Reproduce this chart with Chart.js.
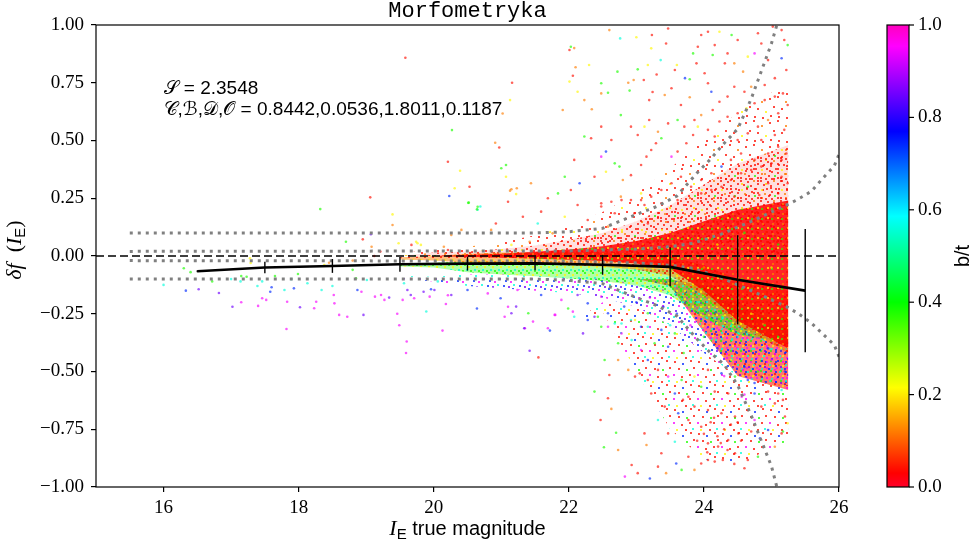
<!DOCTYPE html>
<html>
<head>
<meta charset="utf-8">
<script src="https://cdn.jsdelivr.net/npm/chart.js@4.4.1/dist/chart.umd.min.js"></script>
<style>
html, body { margin: 0; padding: 0; background: #fff; }
#wrap { width: 975px; height: 542px; }
</style>
</head>
<body>
<div id="wrap"><canvas id="chart" width="975" height="542"></canvas></div>
<script>
// Ejes y marcas
const xTicks = [16, 18, 20, 22, 24, 26];
const yTicks = [-1, -0.75, -0.5, -0.25, 0, 0.25, 0.5, 0.75, 1];
const cbTicks = [0, 0.2, 0.4, 0.6, 0.8, 1.0];

// Mediana por bin y su dispersion
const binX = [16.5, 17.5, 18.5, 19.5, 20.5, 21.5, 22.5, 23.5, 24.5, 25.5];
const binY = [-0.066, -0.05, -0.043, -0.036, -0.033, -0.032, -0.038, -0.047, -0.103, -0.15];
const binErr = [0.004, 0.025, 0.03, 0.032, 0.03, 0.03, 0.043, 0.085, 0.193, 0.267];

// Curvas punteadas (limites)
const outerX = [15.5, 21.5, 22.0, 22.5, 23.0, 23.3, 23.6, 23.9, 24.1, 24.3, 24.5, 24.7, 24.85, 25.0, 25.08];
const outerUp = [0.10, 0.10, 0.105, 0.12, 0.18, 0.214, 0.26, 0.36, 0.42, 0.488, 0.55, 0.68, 0.80, 0.92, 1.0];
const outerLo = [-0.10, -0.10, -0.105, -0.12, -0.18, -0.214, -0.26, -0.36, -0.42, -0.47, -0.56, -0.69, -0.80, -0.91, -1.0];
const innerX = [15.5, 22.0, 23.0, 23.5, 23.84, 24.26, 24.7, 25.22, 25.39, 25.59, 25.74, 25.93, 26.0];
const innerUp = [0.02, 0.022, 0.03, 0.04, 0.055, 0.095, 0.15, 0.22, 0.245, 0.28, 0.33, 0.39, 0.44];
const innerLo = [-0.02, -0.022, -0.03, -0.04, -0.053, -0.095, -0.15, -0.219, -0.248, -0.29, -0.332, -0.385, -0.436];

// Zonas densas de la nube (contornos)
const bandX = [19.5, 20.0, 20.5, 21.0, 21.5, 22.0, 22.5, 23.0, 23.5, 24.0, 24.5, 25.25];
const haloOuterUp = [0.01, 0.03, 0.04, 0.06, 0.09, 0.13, 0.19, 0.27, 0.38, 0.5, 0.62, 0.75];
const haloInnerUp = [0.0, 0.015, 0.02, 0.03, 0.045, 0.07, 0.1, 0.15, 0.22, 0.31, 0.4, 0.48];
const haloLo = [0, 0, 0, 0, 0, 0, 0, 0, 0, 0, 0, 0];
const coreUp = [0, 0, 0.004, 0.01, 0.018, 0.028, 0.042, 0.065, 0.1, 0.15, 0.2, 0.24];
const coreLo = [0, 0, -0.004, -0.008, -0.012, -0.016, -0.022, -0.032, -0.055, -0.15, -0.28, -0.4];
const orangeUp = [-0.005, 0.0, 0.01, 0.015, 0.015, 0.015, 0.015, 0.01, 0.0, -0.04, -0.1, -0.15];
const orangeLo = [-0.015, -0.02, -0.028, -0.033, -0.036, -0.04, -0.046, -0.058, -0.085, -0.17, -0.3, -0.42];
const greenUp = [-0.035, -0.03, -0.022, -0.023, -0.026, -0.03, -0.035, -0.045, -0.06, -0.1, -0.2, -0.28];
const greenLo = [-0.045, -0.05, -0.07, -0.08, -0.088, -0.097, -0.108, -0.128, -0.17, -0.27, -0.34, -0.38];
const blueUp = [-0.085, -0.09, -0.08, -0.08, -0.085, -0.092, -0.1, -0.12, -0.15, -0.2, -0.3, -0.36];
const blueLo = [-0.1, -0.11, -0.13, -0.14, -0.15, -0.16, -0.18, -0.22, -0.3, -0.42, -0.52, -0.56];
const lobeUp = [-0.05, -0.05, -0.05, -0.05, -0.05, -0.06, -0.08, -0.1, -0.1, -0.13, -0.22, -0.3];
const lobeLo = [-0.05, -0.05, -0.05, -0.05, -0.05, -0.06, -0.08, -0.1, -0.13, -0.33, -0.52, -0.58];
const lowUp = [-0.3, -0.3, -0.3, -0.3, -0.3, -0.3, -0.2, -0.22, -0.3, -0.42, -0.52, -0.56];
const lowLo = [-0.3, -0.3, -0.3, -0.3, -0.3, -0.3, -0.24, -0.5, -0.75, -0.88, -0.9, -0.8];

// Galaxias sueltas, agrupadas por b/t
const redPts = [[19.12,0.0],[19.21,0.019],[18.95,0.072],[19.58,0.858],[19.06,0.254],[19.67,0.048],[20.21,0.026],[20.21,0.408],[20.53,0.30],[20.97,0.47],[21.16,0.75],[21.1,0.235],[21.32,0.17],[20.92,0.141],[21.59,0.192],[21.69,0.25],[22.03,0.286],[22.13,0.221],[22.28,0.156],[22.48,0.228],[22.68,0.185],[22.78,0.242],[22.97,0.185],[23.07,0.242],[23.17,0.141],[21.55,-0.439],[22.58,-0.616],[22.47,-0.71],[22.6,-0.515],
  [22.01,0.892],[22.06,0.78],[23.11,0.762],[23.23,0.957],[23.44,0.92],[23.47,0.985],[23.3,0.786],[23.19,0.675],[23.24,0.71],[23.52,0.726],[23.57,0.805],[23.66,0.654],[23.91,0.906],[23.96,0.957],[23.89,0.834],[24.01,0.791],[24.06,0.748],[24.16,0.913],[24.06,0.971],[24.31,0.834],[24.35,0.877],[24.5,0.935],[24.85,0.92],[24.8,0.964],[25.02,0.993],[25.15,0.978],[25.19,0.935],[25.22,0.805],[25.05,0.77],[24.9,0.74],[24.95,0.848],[24.6,0.711],[24.45,0.733],[24.35,0.69],[24.23,0.668],[24.13,0.632],[23.86,0.589],[23.71,0.56],[23.47,0.574],[23.19,0.589],[23.02,0.524],[22.92,0.56],[22.63,0.502],[22.48,0.56],[22.33,0.51],[22.08,0.416],[22.38,0.343],[22.92,0.35],[23.07,0.394],[23.15,0.43],[23.22,0.459],[23.29,0.488],[23.61,0.452],[23.74,0.488],[23.84,0.524],[24.06,0.546],[24.16,0.517],[24.23,0.582],[24.35,0.603],[24.5,0.618],[24.75,0.661],[24.9,0.675],[25.05,0.69],[25.17,0.704],[25.24,0.654],[25.1,0.618],[24.8,0.56],[24.65,0.531],[24.5,0.502],[24.85,0.502],[25.05,0.524],[25.19,0.546],[25.1,0.473],[24.95,0.444],[24.75,0.416],[24.55,0.444],[24.4,0.416],[24.11,0.358],[23.96,0.329],[23.81,0.3],[23.66,0.343],[23.52,0.315],[23.37,0.286],[23.22,0.257],[22.92,0.242],[22.63,0.235],[23.96,0.271],[24.11,0.286],[24.26,0.3],[24.4,0.329],[24.55,0.358],[24.7,0.372],[24.85,0.387],[25.0,0.401],[25.15,0.416],[25.22,0.444],[24.95,0.315],[25.15,0.343],[25.24,0.315],[24.82,0.264],[25.1,0.271],[24.45,0.257],[23.61,0.242],[23.37,0.228],[23.12,0.221],[22.48,0.214],
  [22.98,-0.522],[23.05,-0.508],[23.17,-0.537],[23.22,-0.595],[23.12,-0.768],[23.02,-0.94],[22.93,-0.905],[23.32,-0.912],[23.37,-0.854],[23.47,-0.768],[23.77,-0.869],[23.96,-0.898],[24.06,-0.883],[24.16,-0.89],[24.28,-0.883],[24.46,-0.854],[24.6,-0.919],[24.65,-0.883],[25.15,-0.768],[25.2,-0.695],[24.06,-0.811],[24.21,-0.825],[24.36,-0.797],[24.51,-0.768],[23.96,-0.739],[23.77,-0.71],[23.42,-0.652],[23.69,-0.623],[23.86,-0.652],[24.06,-0.667],[24.26,-0.681],[24.46,-0.695],[24.65,-0.667],[24.85,-0.652],[25.05,-0.638],[25.17,-0.623],[23.77,-0.609],[24.16,-0.587],[24.36,-0.595],[24.95,-0.587],[25.1,-0.595],[23.32,-0.493],[24.06,-0.493],[24.85,-0.522],
  [24.1,-0.72],[24.3,-0.75],[24.2,-0.78],[24.4,-0.73],[24.55,-0.8],[24.0,-0.77],[24.35,-0.84],[24.15,-0.7],[24.5,-0.72],[24.25,-0.81],[24.7,-0.76],[24.05,-0.85],[23.9,-0.8],[24.45,-0.9]];
const orangePts = [[18.45,-0.029],[18.8,-0.02],[19.08,0.04],[19.39,0.134],[20.15,0.04],[20.91,0.49],[21.02,0.617],[21.23,0.293],[21.13,0.283],[22.08,0.90],[22.1,0.817],[22.23,0.675],[22.34,0.635],[21.91,0.632],[22.48,0.704],[22.6,0.978],[22.88,0.75],[22.96,0.762],[23.42,0.697],[23.79,0.687],[24.45,0.834],[24.58,0.798],[24.7,0.733],[23.96,0.61],[23.32,0.538],[22.8,0.329],[22.77,0.257],[24.95,0.589],[21.15,0.289],[21.44,0.315],[20.85,0.113],[21.76,0.098],[21.42,0.062],[20.41,0.113],[20.26,0.091],[22.58,0.127],[22.63,-0.662],[22.73,-0.84],[22.73,-0.45],[22.88,-0.493],[23.15,-0.818],[23.44,-0.94],[23.86,-0.926],[25.05,-0.826],[24.8,0.15],[24.0,-0.05]];
const yellowPts = [[17.29,-0.03],[17.28,-0.01],[19.39,0.18],[19.48,0.055],[19.76,0.055],[20.39,0.369],[21.13,0.675],[21.07,0.343],[22.01,0.755],[22.3,0.827],[22.13,0.711],[23.0,0.947],[23.17,0.827],[23.22,0.899],[23.6,0.827],[24.23,0.971],[24.65,0.863],[23.12,0.56],[22.55,0.365],[23.91,0.56],[24.63,0.639],[23.07,0.271],[20.31,0.293],[21.22,0.268],[21.94,0.17],[19.74,0.062],[19.81,0.048],[21.15,0.048],[22.98,-0.277],[23.86,-0.522],[25.24,-0.724],[18.38,-0.039],[24.4,-0.45],[24.7,-0.25],[24.2,0.05],[25.0,-0.05],[24.4,-0.1]];
const greenPts = [[16.3,-0.053],[16.4,-0.07],[16.72,-0.11],[17.15,-0.087],[17.23,-0.09],[17.65,-0.087],[17.99,-0.078],[18.7,0.062],[18.8,-0.06],[18.85,-0.097],[18.32,0.203],[20.27,0.545],[20.65,0.213],[20.51,0.23],[21.07,0.394],[21.0,0.38],[22.03,0.906],[22.48,0.748],[22.58,0.707],[22.72,0.798],[22.9,0.716],[23.02,0.808],[23.79,0.765],[23.84,0.877],[24.13,0.87],[24.41,0.957],[25.24,0.913],[23.61,0.589],[22.77,0.61],[22.23,0.517],[22.68,0.401],[22.75,0.387],[21.94,0.343],[23.37,0.51],[24.65,0.3],[20.52,0.231],[20.64,0.202],[21.84,0.271],[21.4,-0.248],[21.99,-0.227],[22.48,-0.306],[23.17,-0.248],[22.52,-0.828],[22.7,-0.765],[22.38,-0.587],[22.53,-0.45],[23.67,-0.926],[24.8,-0.869],[25.17,-0.76],[23.96,-0.566],[23.67,-0.537],[24.46,-0.522],[22.73,-0.378],[23.27,-0.378],[23.57,-0.335],[22.43,-0.263],[24.0,-0.35],[24.8,-0.5],[24.9,-0.3],[25.1,-0.35],[23.7,-0.42],[24.6,0.1],[23.9,0.0],[25.1,0.05]];
const cyanPts = [[16.0,-0.125],[17.0,-0.10],[17.14,-0.11],[17.39,-0.13],[17.46,-0.11],[17.79,-0.147],[17.89,-0.10],[18.13,-0.118],[18.34,-0.147],[18.5,-0.13],[19.01,-0.104],[19.56,-0.118],[20.06,-0.11],[19.89,-0.24],[20.65,0.2],[20.69,0.214],[21.54,0.141],[22.76,0.942],[23.36,0.848],[22.08,-0.263],[22.68,-0.292],[22.92,-0.277],[23.57,-0.804],[23.32,-0.71],[22.93,-0.364],[23.17,-0.306],[22.78,-0.292],[24.5,-0.35],[23.9,-0.2],[25.15,-0.58],[23.5,-0.3],[22.8,-0.16]];
const bluePts = [[16.33,-0.15],[17.58,-0.155],[17.6,-0.135],[17.93,-0.14],[18.87,-0.147],[19.96,-0.144],[20.23,0.26],[23.72,0.77],[24.11,0.711],[25.15,0.856],[22.55,0.452],[22.16,0.315],[24.26,0.387],[20.64,-0.227],[22.28,-0.205],[22.58,-0.248],[22.82,-0.219],[23.07,-0.306],[20.5,-0.147],[20.99,-0.183],[21.59,-0.169],[21.72,-0.323],[23.2,-0.963],[23.59,-0.898],[24.83,-0.789],[24.95,-0.753],[23.62,-0.681],[23.57,-0.595],[24.75,-0.595],[23.17,-0.45],[24.26,-0.508],[24.65,-0.537],[23.47,-0.393],[23.37,-0.32],[22.28,-0.277],[23.6,-0.25],[24.2,-0.4],[24.6,-0.48],[25.2,-0.5],[24.75,-0.55],[23.4,-0.22],[23.0,-0.2],[24.95,-0.4]];
const violetPts = [[16.52,-0.144],[16.82,-0.16],[17.02,-0.22],[18.02,-0.222],[18.96,-0.255],[19.07,0.094],[19.34,-0.18],[19.61,-0.147],[19.85,-0.155],[19.66,-0.169],[20.01,-0.147],[20.26,-0.169],[21.22,-0.219],[21.34,-0.313],[22.38,-0.263],[22.13,-0.169],[21.42,-0.41],[22.21,-0.335],[21.15,-0.248]];
const magentaPts = [[17.15,-0.20],[17.4,-0.216],[17.46,-0.183],[17.52,-0.19],[17.82,-0.316],[17.83,-0.198],[18.23,-0.226],[18.26,-0.198],[18.52,-0.169],[18.53,-0.205],[18.6,-0.255],[18.72,-0.263],[18.93,-0.155],[19.13,-0.176],[19.22,-0.169],[19.27,-0.19],[19.46,-0.25],[19.49,-0.30],[19.71,-0.183],[19.94,-0.176],[20.18,-0.208],[20.21,-0.17],[19.59,-0.42],[20.13,-0.323],[19.6,-0.37],[19.54,-0.19],[21.05,-0.263],[21.47,-0.284],[21.69,-0.313],[21.8,-0.255],[22.78,-0.335],[20.8,-0.162],[21.24,-0.147],[21.89,-0.19],[22.48,-0.176],[24.75,0.877],[22.48,0.43],[23.52,0.43],[23.07,-0.407],[23.47,-0.522],[22.58,-0.306],[22.06,-0.241],[21.79,-0.255],[21.35,-0.313],[21.1,-0.22],[22.83,-0.955],[24.75,-0.71],[24.56,-0.609],[25.05,-0.537],[23.8,-0.3],[25.0,-0.45],[24.1,-0.25],[24.3,-0.52],[23.2,-0.18],[24.6,-0.6]];

// Valores b/t representativos de cada grupo
const groupBT = [0.04, 0.12, 0.21, 0.38, 0.56, 0.74, 0.85, 0.95];
const groupPts = [redPts, orangePts, yellowPts, greenPts, cyanPts, bluePts, violetPts, magentaPts];

// Mapa de color (gist_rainbow)
const cmapStops = [[0, [255, 0, 41]], [0.03, [255, 0, 0]], [0.215, [255, 255, 0]], [0.4, [0, 255, 0]],
    [0.586, [0, 255, 255]], [0.77, [0, 0, 255]], [0.954, [255, 0, 255]], [1, [255, 0, 191]]];

function cmap(v, a) {
    for (let i = 1; i < cmapStops.length; i++) {
        const [p1, c1] = cmapStops[i];
        const [p0, c0] = cmapStops[i - 1];
        if (v <= p1) {
            const t = (v - p0) / (p1 - p0);
            const c = c0.map((k, j) => Math.round(k + (c1[j] - k) * t));
            return `rgba(${c[0]},${c[1]},${c[2]},${a})`;
        }
    }
    return `rgba(255,0,191,${a})`;
}

// Texturas de puntos para las zonas densas
const canvas = document.getElementById('chart');
const mainCtx = canvas.getContext('2d');
const tileBT = { r: 0.04, o: 0.12, y: 0.21, g: 0.38, c: 0.56, b: 0.74, v: 0.85, m: 0.95 };

function makeTile(size, dots, bg) {
    const c = document.createElement('canvas');
    c.width = size;
    c.height = size;
    const t = c.getContext('2d');
    if (bg) {
        t.fillStyle = bg;
        t.fillRect(0, 0, size, size);
    }
    dots.forEach(d => {
        t.fillStyle = cmap(tileBT[d[2]], 0.75);
        t.fillRect(d[0], d[1], 2, 2);
    });
    return mainCtx.createPattern(c, 'repeat');
}

const sparseTex = makeTile(24, [[1,2,'r'],[9,0,'r'],[17,5,'o'],[5,10,'r'],[13,12,'r'],[21,15,'y'],[2,19,'r'],[10,20,'r'],[18,21,'r']]);
const midTex = makeTile(20, [[0,0,'r'],[7,1,'r'],[13,0,'o'],[17,3,'r'],[3,4,'r'],[10,5,'r'],[15,8,'r'],[1,9,'y'],[6,8,'r'],[11,11,'r'],[17,12,'r'],[4,13,'o'],[8,15,'r'],[14,15,'g'],[0,17,'r'],[17,17,'r'],[11,18,'r'],[5,18,'r']], cmap(0.03, 0.12));
const mixTex = makeTile(10, [[0,0,'g'],[5,1,'b'],[8,4,'o'],[2,5,'y'],[6,7,'m'],[1,8,'c'],[4,3,'r']], cmap(0.03, 0.55));
const lowTex = makeTile(24, [[2,1,'r'],[10,3,'b'],[18,0,'r'],[6,8,'r'],[14,9,'g'],[21,7,'r'],[1,14,'m'],[9,16,'r'],[17,14,'r'],[4,21,'y'],[13,21,'r'],[20,20,'c']]);
const blueTex = makeTile(16, [[0,0,'b'],[6,1,'m'],[11,3,'c'],[3,6,'v'],[9,8,'b'],[14,9,'m'],[1,12,'c'],[7,13,'b'],[12,14,'v']]);
const greenTex = makeTile(8, [[0,0,'g'],[4,2,'y'],[2,5,'c'],[6,6,'g']], cmap(0.38, 0.35));
const orangeTex = makeTile(8, [[0,0,'r'],[4,3,'y'],[2,6,'r'],[6,5,'o']], cmap(0.12, 0.5));
const coreTex = makeTile(10, [[2,3,'o'],[7,7,'y'],[6,1,'r'],[1,8,'g']], cmap(0.03, 0.85));

function xy(xs, ys) {
    return xs.map((x, i) => ({ x: x, y: ys[i] }));
}

// Par de lineas invisibles con relleno entre ellas
function band(up, lo, fillStyle, order) {
    return [
        { type: 'line', data: xy(bandX, up), borderColor: 'transparent', borderWidth: 1, pointRadius: 0,
          fill: '+1', backgroundColor: fillStyle, order: order },
        { type: 'line', data: xy(bandX, lo), borderColor: 'transparent', borderWidth: 1, pointRadius: 0,
          fill: false, order: order }
    ];
}

function dotted(xs, ys) {
    return { type: 'line', data: xy(xs, ys), borderColor: '#808080', borderWidth: 3,
             borderDash: [3, 5], borderCapStyle: 'butt', pointRadius: 0, fill: false, order: 1 };
}

const datasets = [];
datasets.push({ type: 'line', data: xy(binX, binY), borderColor: '#000', borderWidth: 2.6,
                pointRadius: 0, fill: false, order: 0 });
datasets.push(dotted(outerX, outerUp), dotted(outerX, outerLo), dotted(innerX, innerUp), dotted(innerX, innerLo));
datasets.push({ type: 'line', data: [{ x: 15, y: 0 }, { x: 26, y: 0 }], borderColor: '#000', borderWidth: 1.6,
                borderDash: [8, 4], pointRadius: 0, fill: false, order: 2 });
groupPts.forEach((pts, i) => {
    datasets.push({ type: 'scatter', data: pts.map(p => ({ x: p[0], y: p[1] })),
                    backgroundColor: cmap(groupBT[i], 0.65), pointRadius: 1.3, pointBorderWidth: 0,
                    pointHoverRadius: 0, order: 3 });
});
datasets.push(...band(coreUp, coreLo, coreTex, 4));
datasets.push(...band(orangeUp, orangeLo, orangeTex, 5));
datasets.push(...band(greenUp, greenLo, greenTex, 6));
datasets.push(...band(blueUp, blueLo, blueTex, 7));
datasets.push(...band(lobeUp, lobeLo, mixTex, 8));
datasets.push(...band(lowUp, lowLo, lowTex, 9));
datasets.push(...band(haloInnerUp, haloLo, midTex, 10));
datasets.push(...band(haloOuterUp, haloLo, sparseTex, 11));

const serif = "'Liberation Serif', 'DejaVu Serif', serif";
const sans = "'Liberation Sans', 'DejaVu Sans', sans-serif";

// Dibujo extra: marco, barras de error, barra de color y textos
const extras = {
    id: 'extras',
    afterDatasetsDraw(chart) {
        const ctx = chart.ctx;
        const xs = chart.scales.x, ys = chart.scales.y;
        ctx.save();
        ctx.strokeStyle = '#000';
        ctx.lineWidth = 1.4;
        binX.forEach((x, i) => {
            const px = xs.getPixelForValue(x);
            ctx.beginPath();
            ctx.moveTo(px, ys.getPixelForValue(binY[i] + binErr[i]));
            ctx.lineTo(px, ys.getPixelForValue(binY[i] - binErr[i]));
            ctx.stroke();
        });
        ctx.restore();
    },
    afterDraw(chart) {
        const ctx = chart.ctx;
        const a = chart.chartArea;
        const xs = chart.scales.x, ys = chart.scales.y, cb = chart.scales.cb;
        ctx.save();
        ctx.strokeStyle = '#000';
        ctx.lineWidth = 1.2;
        ctx.strokeRect(a.left, a.top, a.right - a.left, a.bottom - a.top);

        // barra de color
        const top = cb.getPixelForValue(1), bot = cb.getPixelForValue(0);
        const cbL = 887, cbW = 22;
        const g = ctx.createLinearGradient(0, bot, 0, top);
        cmapStops.forEach(s => g.addColorStop(s[0], cmap(s[0], 1)));
        ctx.fillStyle = g;
        ctx.fillRect(cbL, top, cbW, bot - top);
        ctx.strokeRect(cbL, top, cbW, bot - top);
        ctx.fillStyle = '#000';
        ctx.font = '19px ' + serif;
        ctx.textAlign = 'left';
        ctx.textBaseline = 'middle';
        cbTicks.forEach(v => {
            const py = cb.getPixelForValue(v);
            ctx.beginPath();
            ctx.moveTo(cbL + cbW, py);
            ctx.lineTo(cbL + cbW + 5, py);
            ctx.stroke();
            ctx.fillText(v.toFixed(1), cbL + cbW + 9, py);
        });

        // titulo
        ctx.font = "22px 'Liberation Mono', 'DejaVu Sans Mono', monospace";
        ctx.textAlign = 'center';
        ctx.textBaseline = 'alphabetic';
        ctx.fillText('Morfometryka', (a.left + a.right) / 2, 17);

        // anotaciones
        ctx.textAlign = 'left';
        ctx.font = '19px ' + sans;
        const tx = xs.getPixelForValue(16.0);
        ctx.fillText('\u{1D4AE} = 2.3548', tx, ys.getPixelForValue(0.70));
        ctx.fillText('\u{1D49E},\u212C,\u{1D49F},\u{1D4AA} = 0.8442,0.0536,1.8011,0.1187', tx, ys.getPixelForValue(0.61));

        // etiqueta eje x
        const partsX = [['I', 'italic 22px ' + serif, 0], ['E', '15px ' + sans, 4], [' true magnitude', '20px ' + sans, 0]];
        drawParts(ctx, partsX, (a.left + a.right) / 2, 535);

        // etiqueta eje y
        ctx.save();
        ctx.translate(21, 250);
        ctx.rotate(-Math.PI / 2);
        const partsY = [['\u03B4f', 'italic 22px ' + serif, 0], ['  (', '22px ' + serif, 0], ['I', 'italic 22px ' + serif, 0],
                        ['E', '15px ' + sans, 4], [')', '22px ' + serif, 0]];
        drawParts(ctx, partsY, 0, 0);
        ctx.restore();

        // etiqueta barra de color
        ctx.save();
        ctx.translate(969, 256);
        ctx.rotate(-Math.PI / 2);
        ctx.font = '20px ' + sans;
        ctx.textAlign = 'center';
        ctx.fillText('b/t', 0, 0);
        ctx.restore();
        ctx.restore();
    }
};

function drawParts(ctx, parts, cx, baseY) {
    let total = 0;
    parts.forEach(p => { ctx.font = p[1]; total += ctx.measureText(p[0]).width; });
    let x = cx - total / 2;
    ctx.textAlign = 'left';
    parts.forEach(p => {
        ctx.font = p[1];
        ctx.fillText(p[0], x, baseY + p[2]);
        x += ctx.measureText(p[0]).width;
    });
}

function fmt(v, d) {
    return v.toFixed(d).replace('-', '\u2212');
}

new Chart(canvas, {
    type: 'scatter',
    data: { datasets: datasets },
    options: {
        responsive: false,
        animation: false,
        events: [],
        layout: { padding: { left: 0, right: 0, top: 25, bottom: 0 } },
        plugins: { legend: { display: false }, tooltip: { enabled: false } },
        scales: {
            x: {
                type: 'linear', min: 15, max: 26, position: 'bottom',
                afterBuildTicks: s => { s.ticks = xTicks.map(v => ({ value: v })); },
                afterFit: s => { s.height = 55; },
                grid: { drawOnChartArea: false, drawTicks: true, tickLength: 5, color: '#000', lineWidth: 1.2 },
                border: { display: false },
                ticks: { color: '#000', font: { family: serif, size: 19 }, padding: 5, maxRotation: 0,
                         callback: v => String(v) }
            },
            y: {
                type: 'linear', min: -1, max: 1, position: 'left',
                afterBuildTicks: s => { s.ticks = yTicks.map(v => ({ value: v })); },
                afterFit: s => { s.width = 96; },
                grid: { drawOnChartArea: false, drawTicks: true, tickLength: 5, color: '#000', lineWidth: 1.2 },
                border: { display: false },
                ticks: { color: '#000', font: { family: serif, size: 19 }, padding: 7,
                         callback: v => fmt(v, 2) }
            },
            cb: {
                type: 'linear', min: 0, max: 1, position: 'right', axis: 'y',
                afterFit: s => { s.width = 136; },
                grid: { display: false, drawTicks: false },
                border: { display: false },
                ticks: { display: false }
            }
        }
    },
    plugins: [extras]
});
</script>
</body>
</html>
